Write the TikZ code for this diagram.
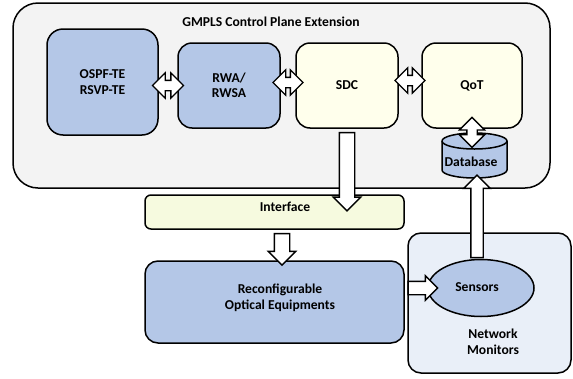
\documentclass[tikz,border=0pt]{standalone}
\usepackage{fontspec}
\setmainfont{Carlito}
\usetikzlibrary{shapes.arrows,shapes.geometric,calc}
\definecolor{bluefill}{HTML}{B4C7E7}
\definecolor{planefill}{HTML}{F3F3F3}
\definecolor{creamfill}{HTML}{FFFFEC}
\definecolor{ifacefill}{HTML}{F6FADF}
\definecolor{monfill}{HTML}{E9EFF8}
\tikzset{
  x=1pt, y=-1pt,
  every node/.style={font=\fontsize{13.6}{15.5}\selectfont\bfseries, align=center},
  box/.style={draw, line width=1.5pt, rectangle, rounded corners=#1, inner sep=0pt},
  box/.default=14pt,
  fatone/.style={single arrow, draw, fill=white, line width=1.4pt, inner xsep=0pt,
    inner ysep=7pt, single arrow head extend=6pt, single arrow tip angle=90},
  fattwo/.style={double arrow, draw, fill=white, line width=1.3pt, inner xsep=0pt,
    inner ysep=4.5pt, double arrow head extend=7.5pt, double arrow tip angle=90},
}
% hollow block arrow from #2 to #3
\newcommand\fatlink[3][]{%
  \path let \p1=#2, \p2=#3, \n1={atan2(\y2-\y1,\x2-\x1)},
    \n2={veclen(\x2-\x1,\y2-\y1)} in
    node[fatone, rotate=\n1, minimum height=\n2, #1] at ($(\p1)!0.5!(\p2)$) {};}
% two-headed block arrow of fixed length #1 centred between #2 and #3
\newcommand\dbllink[3][30]{%
  \path let \p1=#2, \p2=#3, \n1={atan2(\y2-\y1,\x2-\x1)} in
    node[fattwo, rotate=\n1, minimum height=#1] at ($(\p1)!0.5!(\p2)$) {};}

\begin{document}
\begin{tikzpicture}
\useasboundingbox (0,0) rectangle (573,378);

% control plane frame
\node[box=25pt, fill=planefill, minimum width=537, minimum height=185] (plane) at (281.5,95.5) {};
\node (title) at (271,22) {GMPLS Control Plane Extension};

% control plane modules
\node[box=16pt, fill=bluefill, minimum width=111, minimum height=106] (ospf) at (102.5,82) {OSPF-TE\\RSVP-TE};
\node[box, fill=bluefill, minimum width=102, minimum height=85] (rwa) at (229,85.5) {RWA/\\RWSA};
\node[box, fill=creamfill, minimum width=102, minimum height=85] (sdc) at (347,85.5) {SDC};
\node[box, fill=creamfill, minimum width=100, minimum height=85] (qot) at (472,85.5) {QoT};

% database cylinder
\node[minimum width=65, minimum height=45, inner sep=0pt] (db) at (474.5,155.5) {};
\draw[line width=1.5pt, fill=bluefill] (442,141) -- (442,170)
  arc[start angle=180, end angle=0, x radius=32.5, y radius=8] -- (507,141)
  arc[start angle=0, end angle=-180, x radius=32.5, y radius=8] -- cycle;
\draw[line width=1.5pt] (442,141) arc[start angle=180, end angle=0, x radius=32.5, y radius=8];
\node (dbtext) at (471,162) {Database};

% interface and equipment
\node[box=6pt, fill=ifacefill, minimum width=259, minimum height=34] (iface) at (274.5,212) {};
\node (ifacetext) at (285,207) {Interface};
\coordinate (ifin) at (347,207);
\node[box=13pt, fill=monfill, minimum width=163, minimum height=140] (mon) at (489.5,303) {};
\node (montext) at (493,342) {Network\\Monitors};
\node[draw, line width=1.5pt, ellipse, fill=bluefill, minimum width=106, minimum height=57, inner sep=0pt] (sens) at (481,288) {};
\node (senstext) at (477,287) {Sensors};
\node[box=13pt, fill=bluefill, minimum width=259, minimum height=82] (reco) at (274.5,302) {};
\node (recotext) at (280,298) {Reconfigurable\\Optical Equipments};

% exchanges inside the control plane
\dbllink[31]{(ospf.east |- rwa.west)}{(rwa.west)}
\dbllink{($(rwa.east)+(0,-3)$)}{($(sdc.west)+(0,-3)$)}
\dbllink{($(sdc.east)+(0,-5)$)}{($(qot.west)+(0,-5)$)}
\dbllink[30]{(qot.south)}{(qot.south |- 0,136)}

% data flow
\fatlink{(sdc.south)}{(ifin)}
\fatlink{(iface.south -| 282,0)}{($(reco.north -| 282,0)+(0,1)$)}
\fatlink[inner ysep=6pt, single arrow head extend=5.5pt]{(reco.east |- sens.west)}{($(sens.west)+(7,0)$)}
\fatlink[inner ysep=5.5pt, single arrow head extend=7pt]{($(sens.north)+(-4,2)$)}{($(db.south)+(2.5,0)$)}
\end{tikzpicture}
\end{document}
